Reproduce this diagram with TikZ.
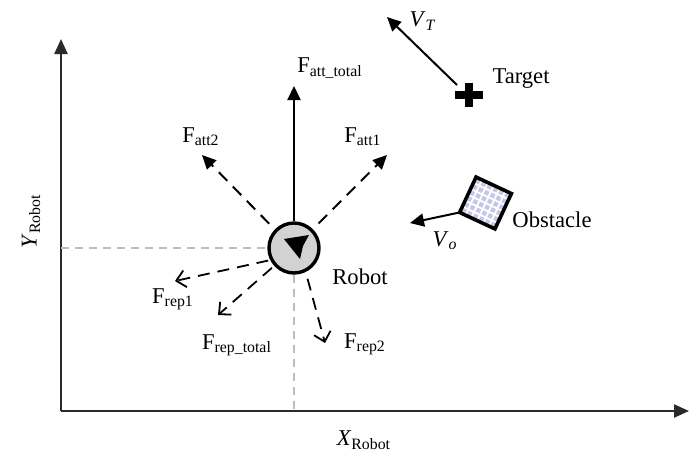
\documentclass[tikz,border=0pt]{standalone}
\usepackage{fontspec}
\setmainfont{Liberation Serif}
\usetikzlibrary{arrows.meta,positioning}
\definecolor{robotgray}{HTML}{D2D2D2}
\definecolor{guidegray}{HTML}{BDBDBD}
\definecolor{obsfill}{HTML}{C6C6E8}
\definecolor{axisgray}{HTML}{2A2A2A}

\begin{document}
\begin{tikzpicture}[
    x=0.5pt, y=0.5pt,
    every node/.style={font=\fontsize{11.3}{13}\selectfont},
    axis/.style={axisgray, line width=1.2pt, -{Triangle[length=7.5pt,width=6.5pt]}},
    guide/.style={guidegray, line width=0.7pt, dash pattern=on 4pt off 3pt},
    attvec/.style={line width=1pt, dash pattern=on 6pt off 4pt, -{Triangle[length=7pt,width=6.5pt]}},
    repvec/.style={line width=0.9pt, dash pattern=on 6pt off 4pt, -{Straight Barb[length=4.5pt,width=8.5pt]}},
    velvec/.style={line width=1pt, -{Triangle[length=7pt,width=6.5pt]}},
    robotbody/.style={draw, circle, line width=1.7pt, fill=robotgray, minimum size=25pt, inner sep=0pt}
  ]
  \useasboundingbox (0,0) rectangle (695,452);

  % axes
  \coordinate (o) at (61,41);
  \coordinate (ytip) at (61,413);
  \coordinate (xtip) at (689,41);
  \draw[axis] (o) -- (ytip);
  \draw[axis] (o) -- (xtip);
  \node[rotate=90] (ylab) at (31,231) {\textit{Y}\textsubscript{Robot}};
  \node (xlab) at (364,12) {\textit{X}\textsubscript{Robot}};

  % robot
  \node[robotbody] (robot) at (294,204) {};
  \coordinate (yref) at (o |- robot);
  \coordinate (xref) at (robot |- o);
  \draw[guide] (yref) -- (robot);
  \draw[guide] (robot) -- (xref);
  \fill ([shift={(-10,9)}]robot.center) -- ([shift={(15,13)}]robot.center)
    -- ([shift={(9,2)}]robot.center) -- ([shift={(6,-11)}]robot.center) -- cycle;
  \node (lrobot) at (360,175) {Robot};

  % attractive forces
  \coordinate (atttot) at (294,366);
  \coordinate (att2) at (202,297);
  \coordinate (att1) at (387,297);
  \draw[velvec] (robot) -- (atttot);
  \draw[attvec, shorten <=4pt] (robot.136) -- (att2);
  \draw[attvec, shorten <=4pt] (robot.45) -- (att1);
  \node (latttot) at (330,384) {F\textsubscript{att\_total}};
  \node (latt2) at (201,315) {F\textsubscript{att2}};
  \node (latt1) at (363,315) {F\textsubscript{att1}};

  % repulsive forces
  \coordinate (rep1) at (175,171);
  \coordinate (reptot) at (218,137);
  \coordinate (rep2) at (325,109);
  \draw[repvec, shorten <=1pt] (robot.207) -- (rep1);
  \draw[repvec, shorten <=1.5pt] (robot.222) -- (reptot);
  \draw[repvec, shorten <=3.5pt] (robot.296) -- (rep2);
  \node (lrep1) at (173,153) {F\textsubscript{rep1}};
  \node (lreptot) at (237,107) {F\textsubscript{rep\_total}};
  \node (lrep2) at (365,108) {F\textsubscript{rep2}};

  % target
  \coordinate (target) at (469,357);
  \fill ([shift={(-14,-4)}]target) rectangle ([shift={(14,4)}]target);
  \fill ([shift={(-4,-12)}]target) rectangle ([shift={(4,12)}]target);
  \coordinate (vtstart) at ([shift={(-12,10)}]target);
  \coordinate (vttip) at (387,435);
  \draw[velvec] (vtstart) -- (vttip);
  \node (ltarget) at (521,373) {Target};
  \node (lvt) at (423,431) {\textit{V}\textsubscript{\textit{T}}};

  % obstacle
  \begin{scope}[shift={(485.5,249)}, rotate=-25]
    \fill[obsfill] (-19.5,-19.5) rectangle (19.5,19.5);
    \draw[white, line width=0.9pt, step={(6.5,6.5)}] (-19.5,-19.5) grid (19.5,19.5);
    \draw[line width=1.8pt] (-19.5,-19.5) rectangle (19.5,19.5);
    \coordinate (obscorner) at (-19.5,-19.5);
  \end{scope}
  \coordinate (votip) at (410,229);
  \draw[velvec] (obscorner) -- (votip);
  \node (lobs) at (552,232) {Obstacle};
  \node (lvo) at (445,211) {\textit{V}\textsubscript{\textit{o}}};
\end{tikzpicture}
\end{document}
